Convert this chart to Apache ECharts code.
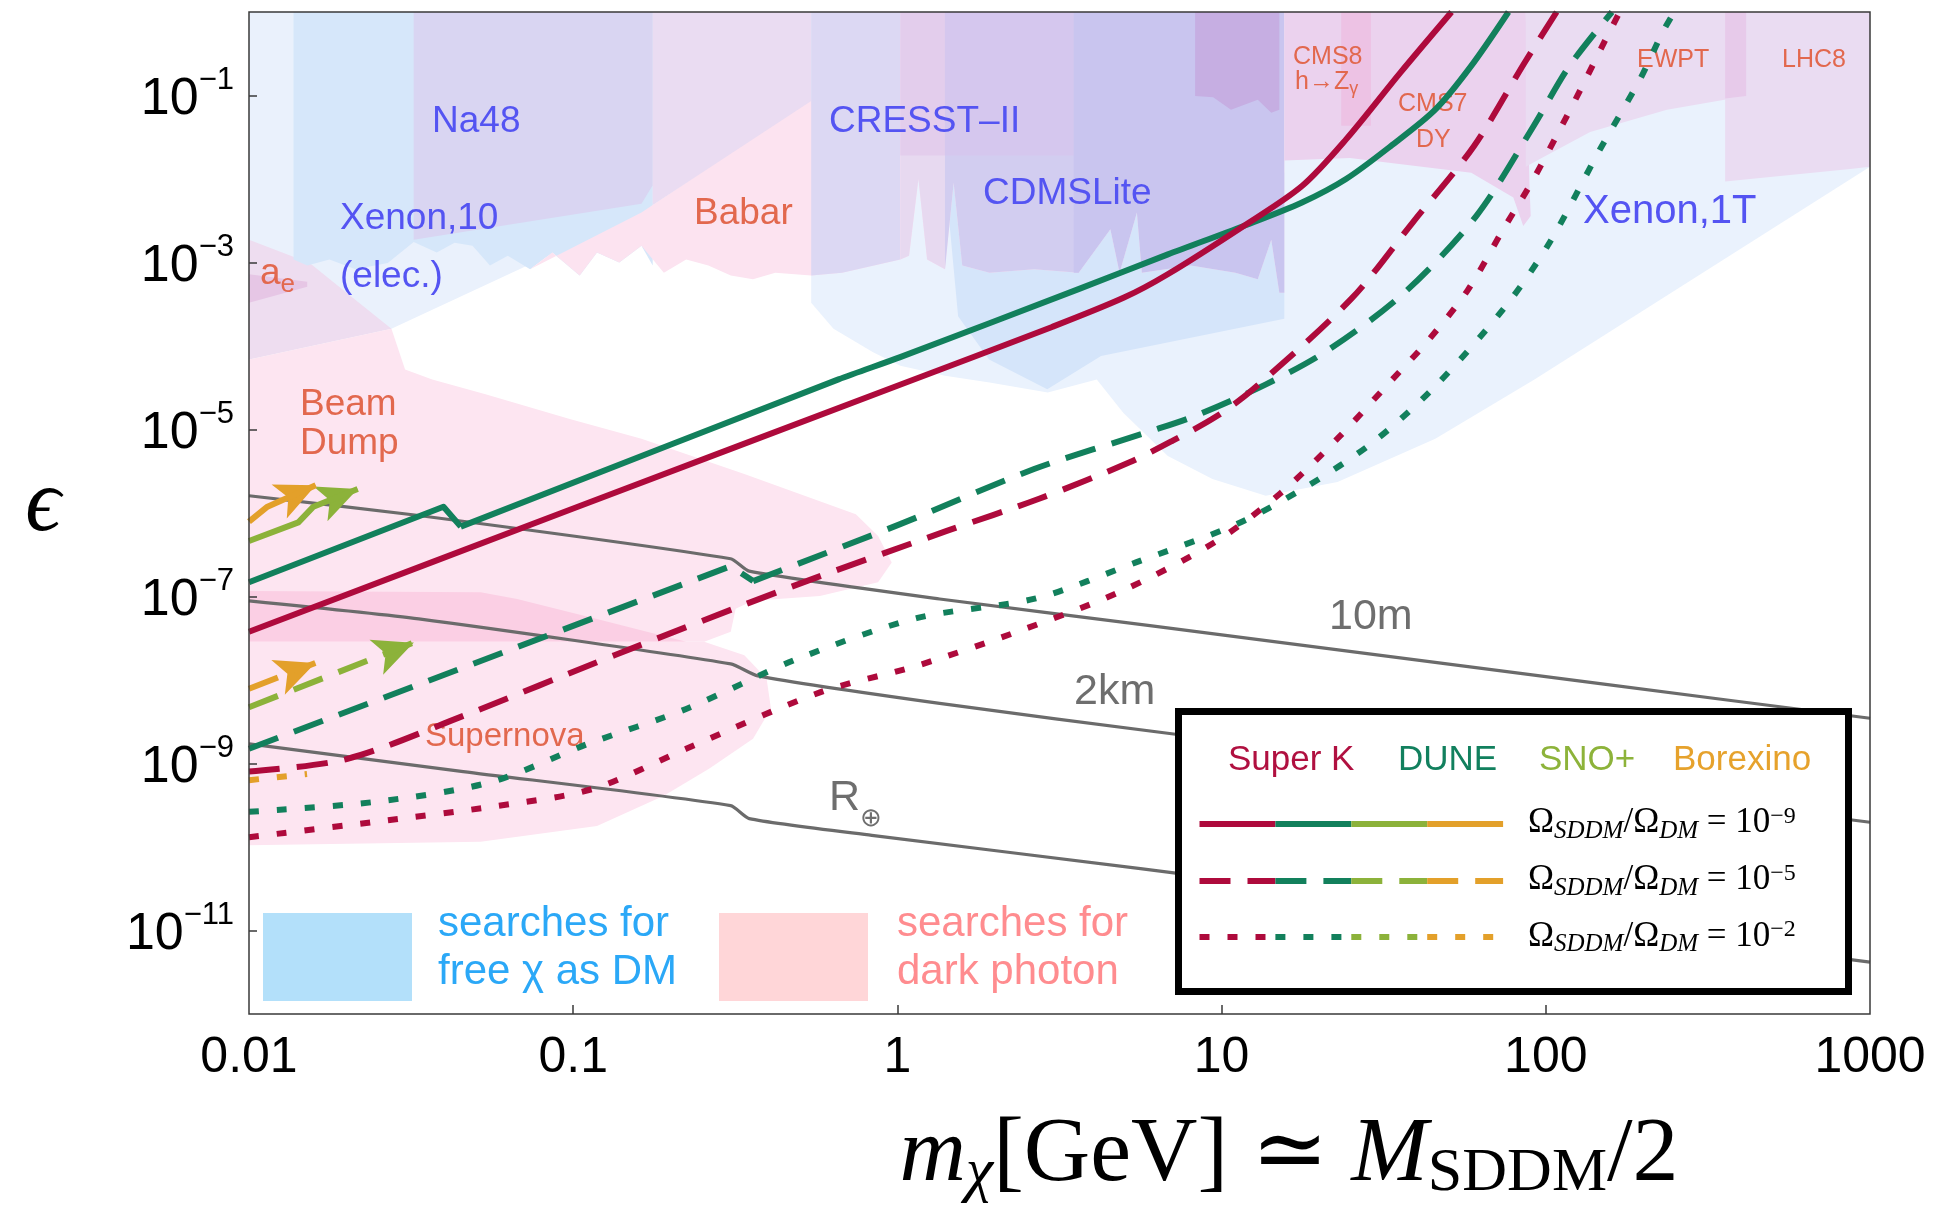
<!DOCTYPE html>
<html>
<head>
<meta charset="utf-8">
<title>Millicharged SDDM decay sensitivity</title>
<script src="https://cdn.jsdelivr.net/npm/echarts@6.0.0/dist/echarts.min.js"></script>
<style>
  html, body { margin: 0; padding: 0; background: #ffffff; }
  #chart { width: 1942px; height: 1210px; }
</style>
</head>
<body>
<div id="chart"></div>
<script>
const SANS = '"Liberation Sans", Arial, Helvetica, sans-serif';
const SERIF = '"Liberation Serif", "Times New Roman", "DejaVu Serif", serif';
const K_SANS = 0.3465, K_SERIF = 0.3375;

// ---------- axis ticks ----------
const massTicks = [0.01, 0.1, 1, 10, 100, 1000];
const massInnerTicks = [0.1, 1, 10, 100];
const epsTicks = [1e-11, 1e-9, 1e-7, 1e-5, 1e-3, 1e-1];

// ---------- sensitivity curves: [m_chi (GeV), epsilon] ----------
const superKSolid = [[0.01,3.78e-8],[0.1,1.13e-6],[1,3.34e-5],[3,1.69e-4],[5,3.8e-4],[6.82,7.23e-4],[11.7,2.74e-3],[17.7,8.24e-3],[24.2,2.98e-2],[35.6,0.188],[51.2,1]];
const duneSolid = [[0.01,1.48e-7],[0.0398,1.19e-6],[0.045,6.87e-7],[0.658,3.98e-5],[1.02,7.36e-5],[3.62,4.8e-4],[6.83,1.25e-3],[11.7,2.74e-3],[17.7,5.23e-3],[24.2,1.0e-2],[33.25,2.48e-2],[45.6,6.76e-2],[58.8,0.2245],[76.7,1]];
const superKDashed = [[0.01,8.01e-10],[0.02,1.13e-9],[0.0458,3.72e-9],[0.134,1.98e-8],[0.479,1.34e-7],[1.42,6.1e-7],[2.735,1.48e-6],[5.2,4.05e-6],[7.07,7.36e-6],[9.62,1.43e-5],[12.5,3.03e-5],[25.1,3.66e-4],[38.9,3.03e-3],[60,2.47e-2],[86,0.247],[108,1]];
const duneDashed = [[0.01,1.5e-9],[0.306,2.31e-7],[0.359,1.53e-7],[1.02,7.36e-7],[2.64,3.36e-6],[6.01,9.5e-6],[8.26,1.45e-5],[13.7,3.47e-5],[21.4,9.03e-5],[36.6,4.34e-4],[61,3.6e-3],[91.8,4.34e-2],[118,0.223],[160,1]];
const superKDotted = [[0.01,1.31e-10],[0.0239,1.98e-10],[0.0576,3.08e-10],[0.115,4.97e-10],[0.223,1.5e-9],[0.577,7.11e-9],[1.155,1.49e-8],[2.4,3.92e-8],[4.89,1.15e-7],[9.52,4.46e-7],[15.1,1.69e-6],[22.8,7.82e-6],[33.3,3.82e-5],[42.9,1.11e-4],[57.4,4.64e-4],[73.8,2.47e-3],[90.3,9.03e-3],[108,3.3e-2],[128,0.118],[152,0.447],[169,1]];
const duneDotted = [[0.01,2.64e-10],[0.0243,3.46e-10],[0.0555,5.97e-10],[0.111,1.72e-9],[0.223,4.5e-9],[0.492,1.79e-8],[1.145,5.5e-8],[2.675,9.5e-8],[5.47,2.58e-7],[11.15,7.38e-7],[18.2,2.05e-6],[29.3,7.03e-6],[45,3.13e-5],[74.6,2.88e-4],[103,1.76e-3],[147,2.27e-2],[195,0.155],[230,0.587],[249,1]];
const borexinoSolid = [[0.01,7.87e-7],[0.0114,1.19e-6],[0.01606,2.154e-6]];
const snoSolid = [[0.01,4.62e-7],[0.0142,7.71e-7],[0.0158,1.19e-6],[0.02164,1.938e-6]];
const borexinoDashed = [[0.01,7.87e-9],[0.01602,1.601e-8]];
const snoDashed = [[0.01,4.72e-9],[0.03218,2.802e-8]];
const borexinoDotted = [[0.01,6.31e-10],[0.0151,7.48e-10]];
// index of the kink (sharp corner) in the curves that have one
const duneSolidKink = 2, duneDashedKink = 2;

// ---------- decay-length contours ----------
const decay10m = [[0.01,1.61e-6],[0.0334,9.33e-7],[0.306,2.83e-7],[0.349,2.01e-7],[1.35,9.33e-8],[6.01,4.49e-8],[147,9.03e-9],[1000,3.48e-9]];
const decay2km = [[0.01,8.87e-8],[0.0334,5.4e-8],[0.306,1.56e-8],[0.371,1.12e-8],[1.35,5.24e-9],[7.01,2.27e-9],[1000,1.98e-10]];
const decayEarth = [[0.01,1.72e-9],[0.0458,8.01e-10],[0.306,3.13e-10],[0.349,2.19e-10],[0.834,1.38e-10],[5.62,5.51e-11],[1000,4.19e-12]];

// ---------- excluded regions (polygon outlines) ----------
const xenon1TRegion = [[0.5421,1],[1000,1],[1000,0.01406],[92.24,3.981e-5],[45.62,7.743e-6],[22.78,2.346e-6],[13.68,1.612e-6],[9.37,2.547e-6],[6.827,4.803e-6],[4.974,1.585e-5],[4.121,3.981e-5],[2.909,2.773e-5],[1.924,3.656e-5],[1.402,4.411e-5],[1.021,5.794e-5],[0.8415,8.433e-5],[0.6352,1.612e-4],[0.5421,3.3e-4]];
const lightDmRegion = [[0.01,1],[1.365,1],[0.1624,0.003981],[0.0275,1.612e-4],[0.01,6.871e-5]];
const aeRegion = [[0.01,0.001879],[0.01538,9.831e-4],[0.02112,3.656e-4],[0.0275,1.612e-4],[0.01,6.871e-5]];
const aeCore = [[0.01,7.233e-4],[0.01512,5.893e-4],[0.01512,5.141e-4],[0.01,3.3e-4]];
const beamDumpRegion = [[0.01,6.871e-5],[0.0275,1.612e-4],[0.0303,5.228e-5],[0.03675,3.981e-5],[0.05365,2.643e-5],[0.09757,1.336e-5],[0.1624,7.743e-6],[0.3372,2.929e-6],[0.7443,9.665e-7],[0.8718,5.319e-7],[0.9603,2.554e-7],[0.8718,1.481e-7],[0.5766,1.017e-7],[0.3586,8.87e-8],[0.317,7.11e-8],[0.3062,3.784e-8],[0.2535,2.879e-8],[0.01,2.879e-8]];
const beamSupernovaOverlap = [[0.01,1.166e-7],[0.05179,1.127e-7],[0.06714,9.309e-8],[0.1184,5.393e-8],[0.2231,2.879e-8],[0.01,2.879e-8]];
const supernovaRegion = [[0.01,2.879e-8],[0.2535,2.879e-8],[0.3372,1.978e-8],[0.395,1.035e-8],[0.4074,4.562e-9],[0.3586,1.978e-9],[0.2624,8.666e-10],[0.1904,4.119e-10],[0.1184,1.786e-10],[0.05179,1.158e-10],[0.01,1.049e-10]];
const cdmsLowRegion = [[1.4,0.01186],[15.61,0.01186],[15.61,2.118e-4],[4.246,7.61e-5],[2.899,3.031e-5],[1.918,6.871e-5],[1.539,2.267e-4]];
const xenon10Region = [[0.01372,1],[0.1759,1],[0.1759,9.183e-4],[0.1624,0.001585],[0.1387,9.966e-4],[0.1184,0.001314],[0.1047,6.989e-4],[0.08625,0.001314],[0.07362,8.289e-4],[0.06285,0.001207],[0.05537,9.183e-4],[0.04892,0.001585],[0.04306,0.001726],[0.03794,0.001314],[0.03221,0.001756],[0.02678,9.831e-4],[0.02131,8.289e-4],[0.01771,0.001089],[0.01512,9.183e-4],[0.01372,0.001089]];
const babarRegion = [[0.07362,8.289e-4],[0.1624,0.003981],[1.365,1],[15.61,1],[15.61,4.335e-4],[15.07,4.335e-4],[14.23,0.001879],[12.93,6.31e-4],[11.03,7.558e-4],[8.041,9.183e-4],[5.675,7.558e-4],[5.48,0.003981],[4.845,7.558e-4],[4.539,0.002495],[3.624,7.558e-4],[2.641,8.289e-4],[1.924,7.558e-4],[1.585,9.183e-4],[1.491,0.009028],[1.402,8.289e-4],[1.235,0.001089],[1.161,0.01],[1.086,0.001207],[1.021,0.001089],[0.6755,7.558e-4],[0.5421,6.989e-4],[0.4201,7.558e-4],[0.3586,6.31e-4],[0.3062,6.989e-4],[0.2612,9.183e-4],[0.2231,0.001089],[0.1904,7.558e-4],[0.1624,0.001585],[0.1387,9.966e-4],[0.1184,0.001314],[0.1047,6.989e-4],[0.08625,0.001314]];
const na48Region = [[0.03221,1],[0.1759,1],[0.1759,0.008433],[0.1624,0.005054],[0.03221,0.001879]];
const babarUpperRegion = [[0.1759,1],[0.5421,1],[0.5421,0.08576],[0.1759,0.004885]];
const subGevRegion = [[0.5421,1],[1.021,1],[1.021,0.001089],[0.6755,7.558e-4],[0.5421,6.989e-4]];
const cresstEdgeRegion = [[1.021,1],[1.402,1],[1.402,8.289e-4],[1.235,0.001089],[1.161,0.01],[1.086,0.001207],[1.021,0.001089]];
const cresstEdgeTop = [[1.021,1],[1.402,1],[1.402,0.01912],[1.021,0.01912]];
const cresstRegion = [[1.402,1],[3.624,1],[3.624,7.558e-4],[2.641,8.289e-4],[1.924,7.558e-4],[1.585,9.183e-4],[1.491,0.009028],[1.402,8.289e-4]];
const cresstTop = [[1.402,1],[3.499,1],[3.499,0.01912],[1.402,0.01912]];
const cdmsLiteRegion = [[3.499,1],[15.61,1],[15.61,4.335e-4],[15.07,4.335e-4],[14.23,0.001879],[12.93,6.31e-4],[11.03,7.558e-4],[8.041,9.183e-4],[5.675,7.558e-4],[5.48,0.003981],[4.845,7.558e-4],[4.539,0.002495],[3.624,7.558e-4],[3.499,7.558e-4]];
const cdmsLiteTop = [[8.285,1],[15.07,1],[15.07,0.06755],[14.23,0.06204],[12.93,0.08873],[10.69,0.06755],[9.419,0.09502],[8.285,0.09831]];
const cmsRegion = [[15.61,1],[86.74,1],[89.06,0.008433],[89.84,0.003594],[85.2,0.002735],[79.41,0.005995],[58.9,0.01186],[24.87,0.01786],[15.61,0.01668]];
const cms8Region = [[23.39,1],[28.88,1],[28.88,0.04336],[23.39,0.04336]];
const ewptRegion = [[86.74,1],[415,1],[415,0.09831],[236.4,0.06755],[137,0.03656],[95.53,0.01726],[86.74,0.01406]];
const lhc8Region = [[357.4,1],[1000,1],[1000,0.01406],[868.7,0.01314],[357.4,0.009341]];
const ewptLhcOverlap = [[357.4,1],[415,1],[415,0.09831],[357.4,0.09183]];

// ---------- styling ----------
const C = { superK: '#AE0A3C', dune: '#12805C', sno: '#8CB23A', borexino: '#E3A02A', decay: '#6B6B6B' };
const DASH = [31, 17], DOT = [10, 18];
const BLUE_TXT = '#5454F2', RED_TXT = '#E2684E', GREY_TXT = '#6E6E6E';

const regionLayers = [
  [xenon1TRegion, '#EAF2FD'], [lightDmRegion, '#EAF1FC'], [aeRegion, '#EEDDF0'], [aeCore, '#E6C6E5'],
  [beamDumpRegion, '#FDE5F1'], [beamSupernovaOverlap, '#FBCFE4'], [supernovaRegion, '#FDE5F1'],
  [cdmsLowRegion, '#D5E5FA'], [xenon10Region, '#D6E7FA'], [babarRegion, '#FCE3F0'],
  [na48Region, '#D9D5F2'], [babarUpperRegion, '#EADCF2'], [subGevRegion, '#DCD8F3'],
  [cresstEdgeRegion, '#E7D9F0'], [cresstEdgeTop, '#E3CDEC'], [cresstRegion, '#D2CDF0'], [cresstTop, '#D5C7EE'],
  [cdmsLiteRegion, '#C9C5EF'], [cdmsLiteTop, '#C6AEE2'],
  [cmsRegion, '#EBD2EE'], [cms8Region, '#EDC2E4'], [ewptRegion, '#EADCF2'], [lhc8Region, '#EADCF2'], [ewptLhcOverlap, '#E7CAEA']
];

function regionSeries(pts, fill) {
  return {
    type: 'custom', silent: true, z: 1, clip: true, animation: false,
    data: [pts[0]], encode: { x: 0, y: 1 },
    renderItem: (params, api) => ({
      type: 'polygon',
      shape: { points: pts.map(p => api.coord(p)) },
      style: { fill: fill }
    })
  };
}

function curve(data, color, type, width, z, smooth) {
  return {
    type: 'line', data, symbol: 'none', showSymbol: false, silent: true, z, animation: false,
    smooth: smooth || false,
    lineStyle: { color, width, type, cap: 'butt', join: 'round' },
    emphasis: { disabled: true }
  };
}

// a curve with a sharp corner: straight up to the corner, smooth after it
function kinkedCurve(data, kink, color, type, width, z, smooth) {
  return [curve(data.slice(0, kink + 1), color, type, width, z, false),
          curve(data.slice(kink), color, type, width, z, smooth)];
}

// arrowhead placed on the last segment of a curve
function withArrow(s, color) {
  const d = s.data, a = d[d.length - 2], b = d[d.length - 1], t = 0.9;
  const start = [Math.pow(a[0], 1 - t) * Math.pow(b[0], t), Math.pow(a[1], 1 - t) * Math.pow(b[1], t)];
  s.markLine = {
    silent: true, animation: false, symbol: ['none', 'arrow'], symbolSize: [28, 40],
    label: { show: false }, emphasis: { disabled: true },
    lineStyle: { color, width: 0.5, type: 'solid' },
    data: [[{ coord: start }, { coord: b }]]
  };
  return s;
}

// rich-text styles with raised / lowered runs; shift = baseline offset (px, positive = down)
function scriptRich(family, k, mainSize, runs) {
  let lift = 0; const offs = {};
  for (const n in runs) { const r = runs[n]; offs[n] = (0.5 + k) * (mainSize - r.size) + r.shift; lift = Math.max(lift, -offs[n]); }
  const rich = {};
  for (const n in runs) {
    const r = runs[n];
    rich[n] = { fontSize: r.size, fontFamily: family, fontStyle: r.italic ? 'italic' : 'normal', verticalAlign: 'top', padding: [offs[n] + lift, 0, 0, 0] };
    if (r.color) { rich[n].color = r.color; rich[n].fill = r.color; }
  }
  return { rich, baseline: lift + (0.5 + k) * mainSize };
}

function plainText(text, x, y, color, size, opt) {
  opt = opt || {};
  const align = opt.align || 'left';
  return {
    type: 'text', x, y, z: opt.z || 3, silent: true,
    style: { text, fill: color, fontSize: size, fontFamily: opt.family || SANS, fontStyle: opt.italic ? 'italic' : 'normal',
      align, textAlign: align, verticalAlign: 'middle', textVerticalAlign: 'middle' }
  };
}

function richText(text, runs, family, k, mainSize, x, baseline, color, align, z) {
  const r = scriptRich(family, k, mainSize, runs);
  align = align || 'left';
  return {
    type: 'text', x, y: baseline - r.baseline, z: z || 3, silent: true,
    style: { text, rich: r.rich, fill: color, fontSize: mainSize, fontFamily: family,
      align, textAlign: align, verticalAlign: 'top', textVerticalAlign: 'top' }
  };
}

function massLabel(v) { return v >= 1 ? String(Math.round(v)) : String(Number(v.toPrecision(1))); }
const yRich = scriptRich(SANS, K_SANS, 52, { b: { size: 52, shift: 0 }, s: { size: 31, shift: -26 } });

// ---------- series ----------
const SM = 0.3;
const series = regionLayers.map(([pts, fill]) => regionSeries(pts, fill));
series.push(curve(decay10m, C.decay, 'solid', 3.2, 4, 0.2));
series.push(curve(decay2km, C.decay, 'solid', 3.2, 4, 0.2));
series.push(curve(decayEarth, C.decay, 'solid', 3.2, 4, 0.2));
series.push(curve(duneDotted, C.dune, DOT, 6, 5, SM));
series.push(curve(superKDotted, C.superK, DOT, 6, 5, SM));
series.push(...kinkedCurve(duneDashed, duneDashedKink, C.dune, DASH, 6, 5, SM));
series.push(curve(superKDashed, C.superK, DASH, 6, 5, SM));
series.push(...kinkedCurve(duneSolid, duneSolidKink, C.dune, 'solid', 6, 5, SM));
series.push(curve(superKSolid, C.superK, 'solid', 6, 5, SM));
series.push(curve(borexinoDotted, C.borexino, DOT, 6, 5));
series.push(withArrow(curve(borexinoDashed, C.borexino, DASH, 6, 5), C.borexino));
series.push(withArrow(curve(snoDashed, C.sno, DASH, 6, 5), C.sno));
series.push(withArrow(curve(borexinoSolid, C.borexino, 'solid', 6, 5), C.borexino));
series.push(withArrow(curve(snoSolid, C.sno, 'solid', 6, 5), C.sno));

// ---------- annotations ----------
const els = [];
// region names
els.push(plainText('Na48', 432, 121.7, BLUE_TXT, 37));
els.push(plainText('Xenon,10', 340, 218.3, BLUE_TXT, 37));
els.push(plainText('(elec.)', 340, 276.8, BLUE_TXT, 37));
els.push(richText('{m|a}{e|e}', { m: { size: 37, shift: 0 }, e: { size: 26, shift: 7 } }, SANS, K_SANS, 37, 260, 286.7, RED_TXT));
els.push(plainText('Babar', 694, 213.3, RED_TXT, 37));
els.push(plainText('CRESST–II', 829, 121.7, BLUE_TXT, 37));
els.push(plainText('CDMSLite', 983, 193.3, BLUE_TXT, 37));
els.push(plainText('Xenon,1T', 1583, 211.7, BLUE_TXT, 40));
els.push(plainText('CMS8', 1293, 57.5, RED_TXT, 25));
els.push(richText('{m|h→Z}{g|γ}', { m: { size: 25, shift: 0 }, g: { size: 18, shift: 5 } }, SANS, K_SANS, 25, 1295, 90.7, RED_TXT));
els.push(plainText('CMS7', 1398, 104.2, RED_TXT, 25));
els.push(plainText('DY', 1416, 140, RED_TXT, 25));
els.push(plainText('EWPT', 1637, 60, RED_TXT, 25));
els.push(plainText('LHC8', 1782, 60, RED_TXT, 25));
els.push(plainText('Beam', 300, 405, RED_TXT, 37));
els.push(plainText('Dump', 300, 443.3, RED_TXT, 37));
els.push(plainText('Supernova', 425, 736.7, RED_TXT, 33));
els.push(plainText('10m', 1329, 617.5, GREY_TXT, 43));
els.push(plainText('2km', 1074, 692.5, GREY_TXT, 43));
els.push(richText('{m|R}{o|⊕}', { m: { size: 43, shift: 0 }, o: { size: 26, shift: 15 } }, SANS, K_SANS, 43, 829, 813.3, GREY_TXT));

// plot frame
els.push({ type: 'rect', z: 15, silent: true, shape: { x: 249, y: 12, width: 1621, height: 1002 }, style: { fill: 'none', stroke: '#3a3a3a', lineWidth: 1.5 } });

// axis titles
els.push(plainText('ϵ', 43, 507, '#000', 88, { align: 'center', family: SERIF, italic: true }));
els.push(richText('{i|m}{c|χ}{m|[GeV] ≃ }{i|M}{s|SDDM}{m|/2}',
  { m: { size: 92, shift: 0 }, i: { size: 92, shift: 0, italic: true }, c: { size: 62, shift: 8, italic: true }, s: { size: 62, shift: 8 } },
  SERIF, K_SERIF, 92, 1289, 1187, '#000', 'center'));

// legend: experiments and abundance
els.push({ type: 'rect', z: 20, silent: true, shape: { x: 1178.5, y: 711.5, width: 670, height: 280 }, style: { fill: '#ffffff', stroke: '#000000', lineWidth: 7 } });
els.push(plainText('Super K', 1228, 760.8, '#B01040', 35, { z: 21 }));
els.push(plainText('DUNE', 1398, 760.8, '#12805E', 35, { z: 21 }));
els.push(plainText('SNO+', 1539, 760.8, '#8DB33A', 35, { z: 21 }));
els.push(plainText('Borexino', 1673, 760.8, '#E6A22C', 35, { z: 21 }));
const legendColors = [C.superK, C.dune, C.sno, C.borexino];
const legendRows = [{ y: 824, dash: null, exp: '9', base: 835 }, { y: 881, dash: DASH, exp: '5', base: 891.7 }, { y: 937, dash: DOT, exp: '2', base: 948.3 }];
const segX0 = 1199.5, segW = 75.9;
legendRows.forEach(row => {
  legendColors.forEach((c, i) => els.push({
    type: 'line', z: 21, silent: true,
    shape: { x1: segX0 + i * segW, y1: row.y, x2: segX0 + (i + 1) * segW, y2: row.y },
    style: { stroke: c, lineWidth: 6, lineDash: row.dash, lineCap: 'butt' }
  }));
  els.push(richText('{m|Ω}{s|SDDM}{m|/Ω}{s|DM}{m| = 10}{p|−' + row.exp + '}',
    { m: { size: 35, shift: 0 }, s: { size: 25, shift: 5, italic: true }, p: { size: 24, shift: -10 } },
    SERIF, K_SERIF, 35, 1528, row.base, '#000', 'left', 21));
});

// legend: search categories
els.push({ type: 'rect', z: 20, silent: true, shape: { x: 263, y: 913, width: 149, height: 88 }, style: { fill: '#B3E0FA' } });
els.push({ type: 'rect', z: 20, silent: true, shape: { x: 719, y: 913, width: 149, height: 88 }, style: { fill: '#FFD6D8' } });
els.push(plainText('searches for', 438, 924, '#2BA8F7', 42, { z: 21 }));
els.push(plainText('free χ as DM', 438, 972, '#2BA8F7', 42, { z: 21 }));
els.push(plainText('searches for', 897, 924, '#FF8C8F', 42, { z: 21 }));
els.push(plainText('dark photon', 897, 972, '#FF8C8F', 42, { z: 21 }));

const option = {
  backgroundColor: '#ffffff',
  animation: false,
  textStyle: { fontFamily: SANS },
  grid: { left: 249, top: 12, width: 1621, height: 1002, containLabel: false },
  xAxis: {
    type: 'log', logBase: 10, min: 0.01, max: 1000, z: 12,
    axisLine: { show: false },
    axisTick: { show: true, inside: true, length: 9, customValues: massInnerTicks, lineStyle: { color: '#3a3a3a', width: 1.5 } },
    axisLabel: { customValues: massTicks, fontSize: 50, color: '#000', fontFamily: SANS, margin: 19, showMinLabel: true, showMaxLabel: true, formatter: v => massLabel(v) },
    splitLine: { show: false }
  },
  yAxis: {
    type: 'log', logBase: 10, min: 1e-12, max: 1, z: 12,
    axisLine: { show: false },
    axisTick: { show: true, inside: true, length: 8, customValues: epsTicks, lineStyle: { color: '#3a3a3a', width: 1.5 } },
    axisLabel: {
      customValues: epsTicks, margin: 15, color: '#000', fontFamily: SANS, rich: yRich.rich,
      formatter: v => '{b|10}{s|−' + Math.abs(Math.round(Math.log10(v))) + '}'
    },
    splitLine: { show: false }
  },
  series,
  graphic: { elements: els }
};

const chart = echarts.init(document.getElementById('chart'), null, { renderer: 'canvas' });
chart.setOption(option);
</script>
</body>
</html>
